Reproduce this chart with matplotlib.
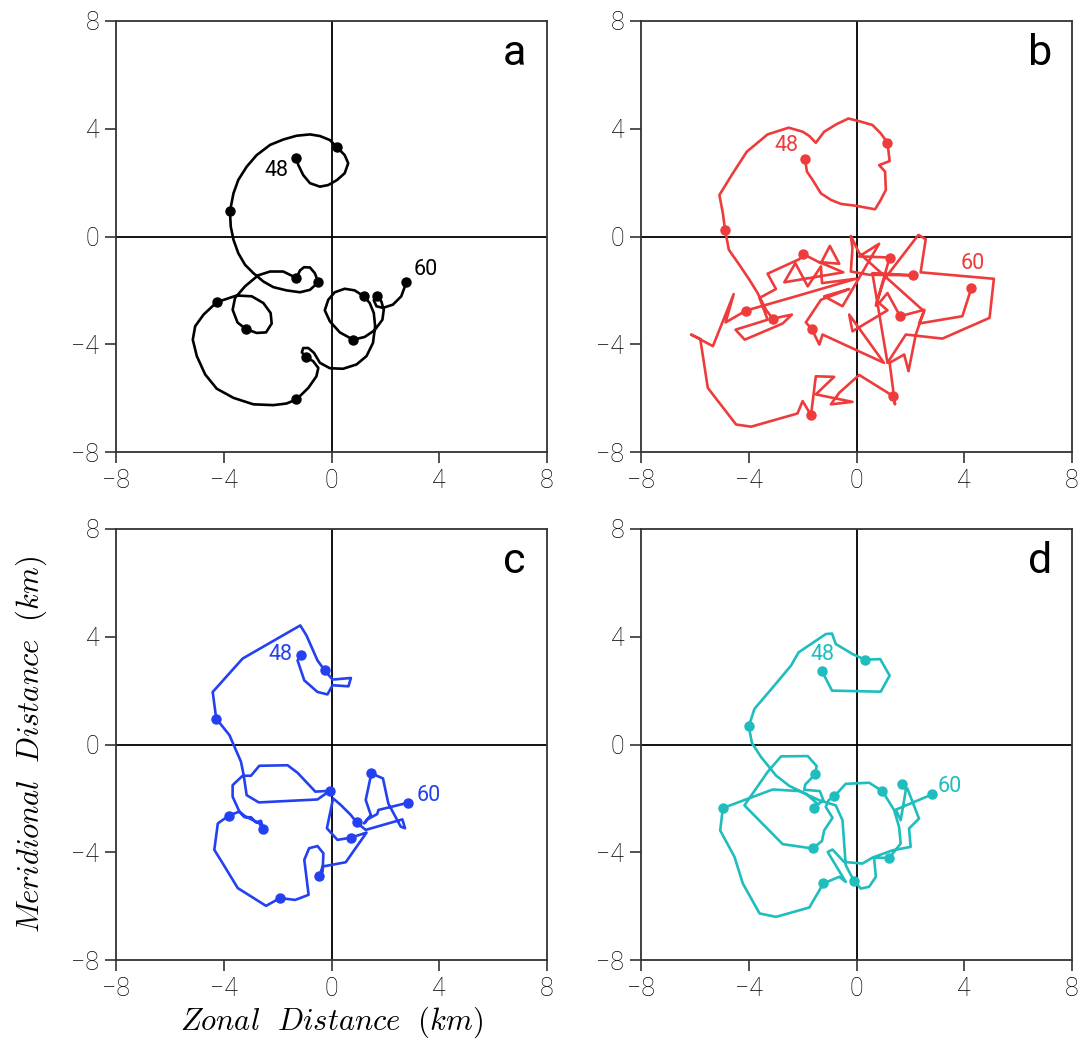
import matplotlib
matplotlib.use("Agg")
import matplotlib.pyplot as plt

plt.rcParams["mathtext.fontset"] = "cm"

# panel a: hourly positions 48..60 h (km)
xa = [-1.32, -1.23, -1.05, -0.80, -0.43, -0.12, 0.21, 0.49, 0.62, 0.49, 0.21, -0.06, -0.43, -0.80,
      -1.30, -1.79, -2.28, -2.78, -3.15, -3.46, -3.64, -3.77, -3.74, -3.64, -3.46, -3.21, -2.90,
      -2.53, -2.16, -1.67, -1.17, -0.80, -0.49, -0.62, -0.80, -1.02, -1.17, -1.30, -1.79, -2.28,
      -2.72, -3.21, -3.58, -3.67, -3.49, -3.19, -2.78, -2.43, -2.22, -2.26, -2.53, -2.96, -3.52,
      -4.26, -4.75, -5.06, -5.15, -5.00, -4.69, -4.26, -3.64, -2.90, -2.16, -1.67, -1.30, -0.86,
      -0.56, -0.49, -0.68, -0.96, -1.10, -1.05, -0.86, -0.65, -0.43, -0.06, 0.43, 0.93, 1.30,
      1.54, 1.62, 1.57, 1.42, 1.20, 0.86, 0.49, 0.12, -0.12, -0.25, -0.06, 0.31, 0.80, 1.23,
      1.60, 1.89, 1.94, 1.85, 1.69, 1.57, 1.67, 1.91, 2.28, 2.59, 2.78]
ya = [2.93, 2.65, 2.28, 1.98, 1.85, 1.91, 2.10, 2.35, 2.72, 3.02, 3.31, 3.58, 3.73, 3.79,
      3.74, 3.60, 3.40, 3.02, 2.59, 2.10, 1.60, 0.93, 0.37, -0.12, -0.62, -1.05, -1.36,
      -1.67, -1.88, -2.00, -2.07, -1.98, -1.70, -1.36, -1.15, -1.14, -1.26, -1.54, -1.30, -1.30,
      -1.44, -1.85, -2.28, -2.72, -3.19, -3.43, -3.58, -3.56, -3.23, -2.84, -2.47, -2.22, -2.19,
      -2.44, -2.90, -3.33, -3.83, -4.44, -5.12, -5.65, -5.99, -6.23, -6.26, -6.20, -6.05, -5.62,
      -5.19, -4.88, -4.63, -4.47, -4.30, -4.14, -4.14, -4.32, -4.69, -4.89, -4.91, -4.75, -4.44,
      -3.95, -3.33, -2.84, -2.47, -2.22, -2.00, -1.94, -2.07, -2.35, -2.74, -3.15, -3.56, -3.83, -3.73,
      -3.48, -3.09, -2.72, -2.41, -2.22, -2.37, -2.59, -2.65, -2.53, -2.22, -1.70]
xa_dots = [-1.32, 0.21, -3.77, -0.49, -1.30, -3.19, -4.26, -1.30, -0.96, 1.20, 0.80, 1.69, 2.78]
ya_dots = [2.93, 3.31, 0.93, -1.70, -1.54, -3.43, -2.44, -6.05, -4.47, -2.22, -3.83, -2.22, -1.70]

# panel b
xb = [-1.91, -1.84, -1.63, -1.32, -0.95, -0.58, -0.02, 0.69, 0.90, 1.09, 1.06, 0.84, 1.23, 1.15,
      0.90, 0.59, 0.10, -0.30, -0.74, -1.20, -1.51, -1.75, -2.00, -2.52, -3.30, -4.07, -4.59,
      -5.09, -4.96, -4.88, -4.74, -4.35, -3.98, -3.67, -3.36, -3.11, -2.40, -2.74, -4.15, -4.49,
      -3.30, -3.60, -2.99, -3.30, -2.12, -1.98, -1.32, -0.99, -0.64, -1.38, -0.49, -2.68, -2.27,
      -1.81, -1.32, -1.28, -0.02, -2.25, -4.10, -4.86, -4.56, -5.33, -6.14, -5.80, -5.52, -4.47,
      -3.91, -2.19, -2.00, -1.69, -1.51, -0.83, -1.51, -0.15, -0.95, -0.64, 0.10, 1.37, 1.43,
      1.23, 1.77, 1.93, 2.20, 2.52, 1.62, 1.15, 0.84, 1.15, -0.15, -0.27, 1.02, -1.26, -1.38,
      -1.67, -1.88, -1.32, -0.27, -1.20, -0.52, 0.84, 0.10, 1.23, 0.72, 1.02, 2.30, 2.57, 2.38,
      5.10, 4.94, 3.19, 1.83, 1.15, 0.59, 2.10, 0.47, -0.21, -0.15, -0.21, 0.10, 2.51, 2.32,
      3.93, 4.26]
yb = [2.86, 2.41, 2.10, 1.60, 1.36, 1.21, 1.14, 1.01, 1.36, 1.73, 2.41, 2.65, 2.80, 3.48,
      3.83, 4.14, 4.28, 4.38, 4.17, 3.89, 3.48, 3.73, 3.89, 4.04, 3.79, 3.15, 2.35,
      1.54, 0.86, 0.25, -0.49, -1.05, -1.60, -2.10, -2.72, -3.05, -2.90, -3.23, -3.83, -3.46,
      -3.09, -2.28, -1.95, -1.38, -0.84, -0.65, -0.99, -0.35, -1.01, -0.95, -1.33, -1.70, -0.99,
      -1.85, -1.11, -1.73, -1.57, -2.22, -2.75, -3.19, -2.14, -4.07, -3.64, -3.80, -5.62, -6.98,
      -7.06, -6.57, -6.11, -6.63, -5.19, -5.21, -5.86, -6.14, -6.23, -5.80, -5.14, -5.93, -6.23,
      -4.69, -4.38, -5.00, -3.64, -2.72, -2.96, -2.10, -2.47, -2.74, -3.52, -2.90, -4.69, -3.64, -4.01,
      -3.42, -3.19, -2.35, -1.95, -2.22, -2.59, -0.27, -0.74, -0.78, -2.57, -1.60, 0.06, -0.10, -1.33,
      -1.57, -3.02, -3.79, -3.64, -4.69, -1.36, -1.44, -1.42, -1.30, -0.43, 0.02, -0.62, -2.78, -3.23,
      -2.96, -1.93]
xb_dots = [-1.91, 1.15, -4.88, -3.11, -1.98, -4.10, -1.69, 1.37, 1.62, -1.67, 1.23, 2.10, 4.26]
yb_dots = [2.86, 3.48, 0.25, -3.05, -0.65, -2.75, -6.63, -5.93, -2.96, -3.42, -0.78, -1.44, -1.93]

# panel c
xc = [-1.12, -1.26, -1.01, -0.52, -0.15, 0.04, 0.63, 0.72, 0.04, -0.25, -0.52, -0.93, -1.16,
      -3.30, -4.41, -4.28, -3.79, -3.36, -3.26, -3.15, -2.70, -0.52, -0.06, -0.60, -1.26, -1.63,
      -2.68, -2.99, -3.30, -3.67, -3.67, -3.42, -3.23, -2.99, -2.80, -2.62, -2.53, -2.68, -3.23,
      -3.42, -3.81, -4.22, -4.35, -4.04, -3.48, -2.43, -1.91, -1.35, -0.85, -1.01, -0.83, -0.52,
      -0.30, -0.33, -0.46, -0.33, 0.53, 1.30, 0.72, 0.22, -0.17, 0.06, 0.35, 0.72, 0.93, 1.27,
      2.63, 2.73, 2.57, 2.11, 1.91, 1.48, 1.27, 1.46, 1.21, 1.33, 1.70, 1.74, 2.85]
yc = [3.33, 3.12, 2.38, 1.95, 1.86, 2.20, 2.16, 2.47, 2.41, 2.75, 3.12, 4.05, 4.42,
      3.19, 1.95, 0.96, 0.35, -0.64, -1.14, -1.88, -2.15, -2.04, -1.72, -1.75, -1.05, -0.77,
      -0.79, -1.16, -1.16, -1.51, -1.94, -2.49, -2.70, -2.70, -2.89, -2.83, -3.14, -2.93, -2.65,
      -2.49, -2.64, -2.93, -3.91, -4.41, -5.33, -5.99, -5.70, -5.77, -5.58, -4.28, -3.85, -3.77,
      -4.04, -4.72, -4.90, -4.53, -4.37, -3.27, -3.46, -3.54, -3.11, -2.00, -2.25, -2.62, -2.89, -3.17,
      -2.78, -3.11, -3.05, -2.19, -1.26, -1.07, -2.06, -2.62, -2.93, -2.78, -2.58, -2.43, -2.16]
xc_dots = [-1.12, -0.25, -4.28, -0.06, -2.53, -3.81, -1.91, -0.46, 0.72, 0.93, 1.48, 2.85]
yc_dots = [3.33, 2.75, 0.96, -1.72, -3.14, -2.64, -5.70, -4.90, -3.46, -2.89, -1.07, -2.16]

# panel d
xd = [-1.28, -0.91, 0.90, 1.23, 0.88, 0.31, -0.15, -0.77, -0.91, -1.14, -2.15, -2.43, -3.05,
      -3.79, -4.00, -3.88, -3.54, -2.99, -2.49, -1.88, -1.48, -1.59, -1.23, -1.36, -1.94, -1.90,
      -1.73, -1.53, -1.48, -1.81, -2.80, -3.30, -4.16, -2.74, -1.63, -1.28, -1.20, -0.89, -1.14,
      -1.04, -0.83, -0.40, 0.47, 0.96, 1.40, 1.58, 1.64, 1.21, 0.65, 0.72, 0.47, 0.16, -0.09,
      -0.40, -0.52, -0.77, -1.38, -2.12, -3.11, -4.96, -5.06, -4.53, -4.22, -3.60, -2.99, -1.75,
      -1.23, -0.64, -0.40, -1.07, -0.89, -0.46, 0.22, 0.59, 1.33, 2.01, 1.95, 2.32, 1.89, 1.70,
      1.83, 1.64, 1.46, 2.81]
yd = [2.72, 2.00, 1.96, 2.56, 3.17, 3.15, 3.36, 3.73, 4.12, 4.10, 3.42, 2.93, 2.19,
      1.32, 0.67, 0.05, -0.47, -1.15, -1.54, -1.83, -2.17, -2.35, -2.07, -1.73, -1.68, -1.48,
      -1.31, -1.09, -0.80, -0.43, -0.44, -1.02, -2.26, -3.70, -3.86, -3.58, -3.19, -2.72, -2.32,
      -2.07, -1.93, -1.46, -1.42, -1.73, -2.44, -3.06, -3.68, -4.21, -4.20, -4.91, -5.28, -5.35, -5.07,
      -4.48, -2.81, -2.26, -2.07, -1.73, -1.67, -2.36, -3.19, -4.17, -5.16, -6.27, -6.40, -6.05,
      -5.16, -4.91, -5.10, -3.99, -3.90, -4.36, -4.42, -4.20, -3.93, -3.80, -3.12, -2.75, -1.64, -1.46,
      -1.70, -2.81, -2.42, -1.85]
xd_dots = [-1.28, 0.31, -4.00, -1.59, -1.53, -1.63, -0.83, 0.96, 1.21, -0.09, -4.96, -1.23, 1.70, 2.81]
yd_dots = [2.72, 3.15, 0.67, -2.35, -1.09, -3.86, -1.93, -1.73, -4.21, -5.07, -2.36, -5.16, -1.46, -1.85]

panels = [
    ("a", xa, ya, xa_dots, ya_dots, "black", (-14, -9), (14, 9)),
    ("b", xb, yb, xb_dots, yb_dots, "#ee3b3b", (-13, 10), (1, 18)),
    ("c", xc, yc, xc_dots, yc_dots, "#2341f0", (-15, 0), (15, 5)),
    ("d", xd, yd, xd_dots, yd_dots, "#1fbdbd", (0, 12), (13, 6)),
]

tick_font = dict(family="Roboto", weight="light", size=18, color="black")

fig = plt.figure(figsize=(10.87, 10.45), dpi=100)
pos = [
    [116 / 1087, 1 - 452 / 1045, 431 / 1087, 431 / 1045],
    [641 / 1087, 1 - 452 / 1045, 431 / 1087, 431 / 1045],
    [116 / 1087, 1 - 960 / 1045, 431 / 1087, 431 / 1045],
    [641 / 1087, 1 - 960 / 1045, 431 / 1087, 431 / 1045],
]

axes = []
for p, (letter, x, y, xd_, yd_, col, off48, off60) in zip(pos, panels):
    ax = fig.add_axes(p)
    ax.set_xlim(-8, 8)
    ax.set_ylim(-8, 8)
    ax.axhline(0, color="black", lw=1.3, zorder=1)
    ax.axvline(0, color="black", lw=1.3, zorder=1)
    ax.plot(x, y, color=col, lw=1.9, zorder=3)
    ax.plot(xd_, yd_, "o", color=col, ms=6.5, zorder=4)
    ax.annotate("48", (xd_[0], yd_[0]), xytext=off48, textcoords="offset points",
                ha="center", va="center", color=col, fontsize=15.5, family="Roboto")
    ax.annotate("60", (xd_[-1], yd_[-1]), xytext=off60, textcoords="offset points",
                ha="center", va="center", color=col, fontsize=15.5, family="Roboto")
    ax.text(0.925, 0.925, letter, transform=ax.transAxes, ha="center", va="center",
            fontsize=31, family="Roboto")
    ax.set_xticks([-8, -4, 0, 4, 8])
    ax.set_yticks([-8, -4, 0, 4, 8])
    ax.set_xticklabels(["\u22128", "\u22124", "0", "4", "8"], fontdict=tick_font)
    ax.set_yticklabels(["\u22128", "\u22124", "0", "4", "8"], fontdict=tick_font)
    ax.tick_params(direction="out", length=8, width=1.2, color="#333333", pad=4)
    for s in ax.spines.values():
        s.set_linewidth(1.3)
        s.set_color("#333333")
    axes.append(ax)

axes[2].set_xlabel(r"$\mathit{Zonal\ \ Distance\ \ (km)}$", fontsize=22, labelpad=3)
axes[2].set_ylabel(r"$\mathit{Meridional\ \ Distance\ \ (km)}$", fontsize=22, labelpad=16)

fig.savefig("out.png", dpi=100)
